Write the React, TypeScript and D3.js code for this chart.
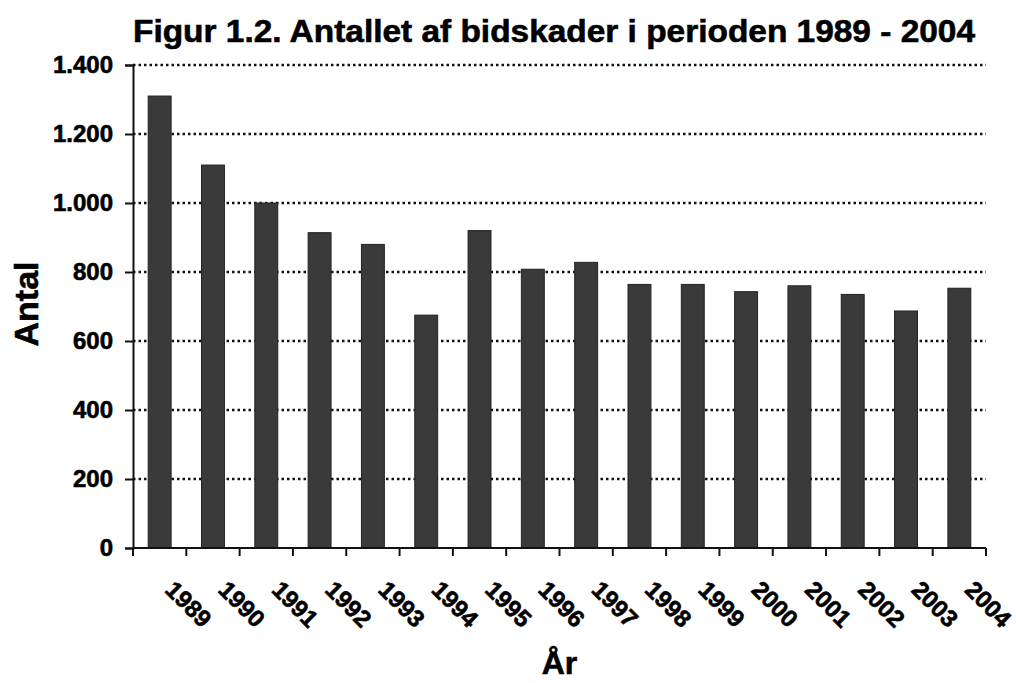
import React, { useEffect, useRef } from "react";
import * as d3 from "d3";

// Data
const years = [
  "1989", "1990", "1991", "1992", "1993", "1994", "1995", "1996",
  "1997", "1998", "1999", "2000", "2001", "2002", "2003", "2004",
];
const counts = [
  1310, 1110, 1000, 914, 880, 675, 920, 808,
  828, 764, 764, 743, 760, 735, 687, 753,
];
const yTicks = [0, 200, 400, 600, 800, 1000, 1200, 1400];
const yTickLabels = ["0", "200", "400", "600", "800", "1.000", "1.200", "1.400"];

const title = "Figur 1.2. Antallet af bidskader i perioden 1989 - 2004";
const xTitle = "År";
const yTitle = "Antal";

const App: React.FC = () => {
  const svgRef = useRef<SVGSVGElement>(null);

  useEffect(() => {
    const width = 1016;
    const height = 683;
    const left = 133;
    const right = 986;
    const top = 65;
    const bottom = 548;
    const font = "'Liberation Sans', Arial, sans-serif";

    const svg = d3.select(svgRef.current).attr("width", width).attr("height", height);
    svg.selectAll("*").remove();

    const x = d3
      .scaleBand<string>()
      .domain(years)
      .range([left, right])
      .paddingInner(0.57)
      .paddingOuter(0.285);
    const y = d3.scaleLinear().domain([0, 1400]).range([bottom, top]);

    // Gridlines (dotted)
    svg
      .append("g")
      .selectAll("line")
      .data(yTicks.filter((t) => t > 0))
      .enter()
      .append("line")
      .attr("x1", left)
      .attr("x2", right)
      .attr("y1", (d) => y(d))
      .attr("y2", (d) => y(d))
      .attr("stroke", "#111")
      .attr("stroke-width", 2.4)
      .attr("stroke-dasharray", "2.5,3");

    // Bars
    svg
      .append("g")
      .selectAll("rect")
      .data(counts)
      .enter()
      .append("rect")
      .attr("x", (_, i) => x(years[i]) as number)
      .attr("y", (d) => y(d))
      .attr("width", x.bandwidth())
      .attr("height", (d) => bottom - y(d))
      .attr("fill", "#3a3a3a")
      .attr("stroke", "#222")
      .attr("stroke-width", 1);

    // Y axis
    const yAxis = svg
      .append("g")
      .attr("transform", `translate(${left},0)`)
      .call(
        d3
          .axisLeft(y)
          .tickValues(yTicks)
          .tickSize(8)
          .tickPadding(12)
          .tickFormat((_, i) => yTickLabels[i])
      );
    yAxis.select(".domain").attr("stroke", "#111").attr("stroke-width", 2);
    yAxis.selectAll(".tick line").attr("stroke", "#111").attr("stroke-width", 2);
    yAxis
      .selectAll(".tick text")
      .attr("font-family", font)
      .attr("font-weight", "bold")
      .attr("font-size", 24)
      .attr("stroke", "#000")
      .attr("stroke-width", 0.6)
      .attr("fill", "#000");

    // X axis: ticks at category boundaries
    const step = x.step();
    const boundaries = d3.range(years.length + 1).map((i) => left + i * step);
    const xAxis = svg.append("g");
    xAxis
      .append("line")
      .attr("x1", left)
      .attr("x2", right)
      .attr("y1", bottom)
      .attr("y2", bottom)
      .attr("stroke", "#111")
      .attr("stroke-width", 2);
    xAxis
      .selectAll("line.tick")
      .data(boundaries)
      .enter()
      .append("line")
      .attr("class", "tick")
      .attr("x1", (d) => d)
      .attr("x2", (d) => d)
      .attr("y1", bottom)
      .attr("y2", bottom + 8)
      .attr("stroke", "#111")
      .attr("stroke-width", 2);
    xAxis
      .selectAll("text")
      .data(years)
      .enter()
      .append("text")
      .attr("transform", (d) => {
        const cx = (x(d) as number) + x.bandwidth() / 2 + 29;
        return `translate(${cx},604) rotate(45)`;
      })
      .attr("text-anchor", "middle")
      .attr("dominant-baseline", "central")
      .attr("font-family", font)
      .attr("font-weight", "bold")
      .attr("font-size", 24)
      .attr("stroke", "#000")
      .attr("stroke-width", 0.6)
      .text((d) => d);

    // Titles
    svg
      .append("text")
      .attr("x", 133)
      .attr("y", 42)
      .attr("textLength", 842)
      .attr("lengthAdjust", "spacingAndGlyphs")
      .attr("font-family", font)
      .attr("font-weight", "bold")
      .attr("font-size", 31)
      .attr("stroke", "#000")
      .attr("stroke-width", 0.6)
      .text(title);

    svg
      .append("text")
      .attr("x", (left + right) / 2)
      .attr("y", 674)
      .attr("text-anchor", "middle")
      .attr("font-family", font)
      .attr("font-weight", "bold")
      .attr("font-size", 32)
      .attr("stroke", "#000")
      .attr("stroke-width", 0.6)
      .text(xTitle);

    svg
      .append("text")
      .attr("transform", "translate(38,304) rotate(-90)")
      .attr("text-anchor", "middle")
      .attr("font-family", font)
      .attr("font-weight", "bold")
      .attr("font-size", 34)
      .attr("stroke", "#000")
      .attr("stroke-width", 0.6)
      .text(yTitle);
  }, []);

  return (
    <div style={{ position: "absolute", left: 0, top: 0, background: "#fff" }}>
      <svg ref={svgRef} style={{ display: "block" }}></svg>
    </div>
  );
};

export default App;
